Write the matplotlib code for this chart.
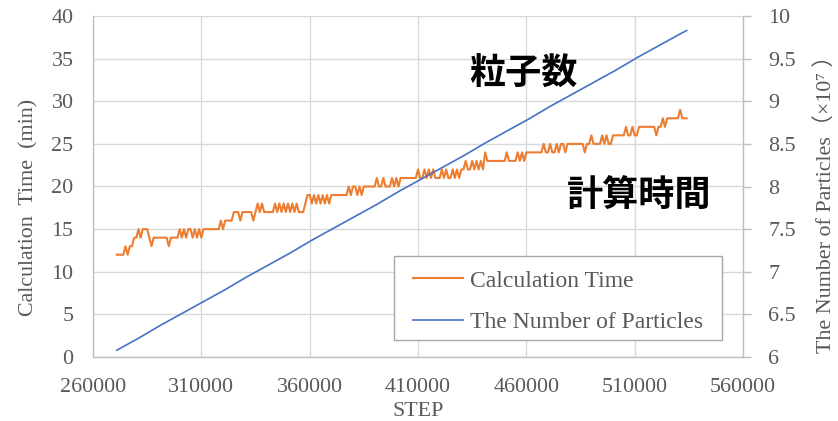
import numpy as np
import matplotlib
matplotlib.use('Agg')
import matplotlib.pyplot as plt
from matplotlib.patches import Rectangle

plt.rcParams['font.family'] = ['Liberation Serif', 'Noto Sans CJK JP', 'DejaVu Sans']

# calculation time (min), one value per 1000 steps starting at step 271000
step_start = 271000
step_interval = 1000
calc_time = [
    12, 12, 12, 12, 13, 12, 13, 13, 14, 14, 15, 14, 15, 15, 15, 14, 13, 14,
    14, 14, 14, 14, 14, 14, 13, 14, 14, 14, 14,
    15, 14, 15, 14, 15, 15, 14, 15, 14, 15, 14,
    15, 15, 15, 15, 15, 15, 15, 15, 16, 15, 16, 16, 16, 16,
    17, 17, 17, 16, 17, 17, 17, 17, 17, 16, 17, 18, 17, 18, 17,
    17, 17, 17, 17, 18, 17, 18, 17, 18, 17, 18, 17,
    18, 17, 18, 17, 17, 17, 18, 19,
    19, 18, 19, 18, 19, 18, 19, 18, 19, 18, 19,
    19, 19, 19, 19, 19, 19, 19,
    20, 19, 20, 20, 19, 20, 19, 20, 20, 20, 20, 20, 20,
    21, 20, 20, 21, 20, 20, 20, 21, 20, 21, 20, 21, 21, 21,
    21, 21, 21, 21, 21,
    22, 21, 21, 22, 21, 22, 21, 22, 21, 21, 21, 22, 21, 22, 21, 21, 22, 21, 22, 21,
    22, 22, 23, 22, 22, 23, 22, 23, 22, 23, 22,
    24, 23, 23, 23, 23, 23, 23, 23, 23, 23, 24, 23, 23, 23, 23, 24, 23, 24, 23,
    24, 24, 24, 24, 24, 24, 24, 24, 25, 24, 24, 25, 24, 24, 25, 24,
    25, 25, 24, 25, 25, 25, 25, 25, 25, 25, 25, 24, 25, 25,
    26, 25, 25, 25, 25, 26, 25, 26, 25, 25,
    26, 26, 26, 26, 26, 26, 27, 26, 26, 27, 26, 26,
    27, 27, 27, 27, 27, 27, 27, 27, 26, 27, 27, 28, 27,
    28, 28, 28, 28, 28, 28, 29, 28, 28, 28,
]

# number of particles (x10^7)
particle_steps = [271000, 281000, 291000, 301000, 311000, 321000, 331000,
                  341000, 351000, 361000, 371000, 381000, 391000, 401000,
                  411000, 421000, 431000, 441000, 451000, 461000, 471000,
                  481000, 491000, 501000, 511000, 521000, 531000, 534000]
particles = [6.08, 6.22, 6.37, 6.51, 6.65, 6.79, 6.94, 7.08, 7.22, 7.37,
             7.51, 7.65, 7.79, 7.94, 8.08, 8.22, 8.36, 8.51, 8.65, 8.79,
             8.94, 9.08, 9.22, 9.36, 9.51, 9.65, 9.79, 9.83]

xticks = [260000, 310000, 360000, 410000, 460000, 510000, 560000]
yticks_left = [0, 5, 10, 15, 20, 25, 30, 35, 40]
yticks_right = [6, 6.5, 7, 7.5, 8, 8.5, 9, 9.5, 10]
yticklabels_right = ['6', '6.5', '7', '7.5', '8', '8.5', '9', '9.5', '10']

text_col = '#595959'
grid_col = '#D9D9D9'
axis_col = '#BFBFBF'
orange = '#ED7D31'
blue = '#4472C4'
fs = 15.8

steps = step_start + step_interval * np.arange(len(calc_time))

fig = plt.figure(figsize=(8.38, 4.21), dpi=100)
ax = fig.add_axes([93 / 838, 64 / 421, 650 / 838, 341 / 421])
ax2 = ax.twinx()

l1, = ax.plot(steps, calc_time, color=orange, lw=1.5, label='Calculation Time')
l2, = ax2.plot(particle_steps, particles, color=blue, lw=1.2,
               label='The Number of Particles')

ax.set_xlim(260000, 560000)
ax.set_ylim(0, 40)
ax2.set_ylim(6, 10)
ax.set_xticks(xticks)
ax.set_xticklabels([str(v) for v in xticks])
ax.set_yticks(yticks_left)
ax2.set_yticks(yticks_right)
ax2.set_yticklabels(yticklabels_right)

ax.grid(True, color=grid_col, lw=1.0)
ax.set_axisbelow(True)
for a in (ax, ax2):
    for s in a.spines.values():
        s.set_visible(False)
ax.spines['left'].set_visible(True)
ax.spines['bottom'].set_visible(True)
ax2.spines['right'].set_visible(True)
for s in (ax.spines['left'], ax.spines['bottom'], ax2.spines['right']):
    s.set_color(axis_col)
    s.set_linewidth(1.0)

ax.tick_params(axis='both', length=0, labelsize=fs, labelcolor=text_col)
ax.tick_params(axis='y', pad=14)
ax.tick_params(axis='x', pad=15)
ax2.tick_params(axis='y', length=6, width=1.0, color=axis_col, labelsize=fs,
                labelcolor=text_col, pad=12)

fig.text(29 / 838, 1 - 207 / 421, 'Calculation  Time  (min)', rotation=90,
         ha='center', va='center', fontsize=fs, color=text_col)
fig.text(825 / 838, 1 - 199 / 421, 'The Number of Particles（×10⁷ ）',
         rotation=90, ha='center', va='center', fontsize=fs, color=text_col)
fig.text(418 / 838, 1 - 411 / 421, 'STEP', ha='center', va='center',
         fontsize=fs, color=text_col)

fig.text(523 / 838, 1 - 74 / 421, '粒子数', ha='center', va='center',
         fontsize=26, family=['Noto Sans CJK JP'], weight='bold', color='black')
fig.text(639 / 838, 1 - 196 / 421, '計算時間', ha='center', va='center',
         fontsize=26, family=['Noto Sans CJK JP'], weight='bold', color='black')

# legend box drawn separately so the inner offsets can be set freely
box = Rectangle(((394 - 93) / 650, (357 - 340) / 341), 328 / 650, 84 / 341,
                transform=ax2.transAxes, facecolor='white', edgecolor='#A6A6A6',
                lw=1.0, zorder=5)
ax2.add_patch(box)
leg = ax2.legend([l1, l2], ['Calculation Time', 'The Number of Particles'],
                 loc='upper left',
                 bbox_to_anchor=((413 - 93) / 650, (357 - 270) / 341),
                 borderaxespad=0, borderpad=0, fontsize=17, frameon=False,
                 handlelength=2.1, handletextpad=0.3, labelspacing=0.85,
                 labelcolor=text_col)
leg.set_zorder(6)

fig.savefig('out.png', dpi=100)
